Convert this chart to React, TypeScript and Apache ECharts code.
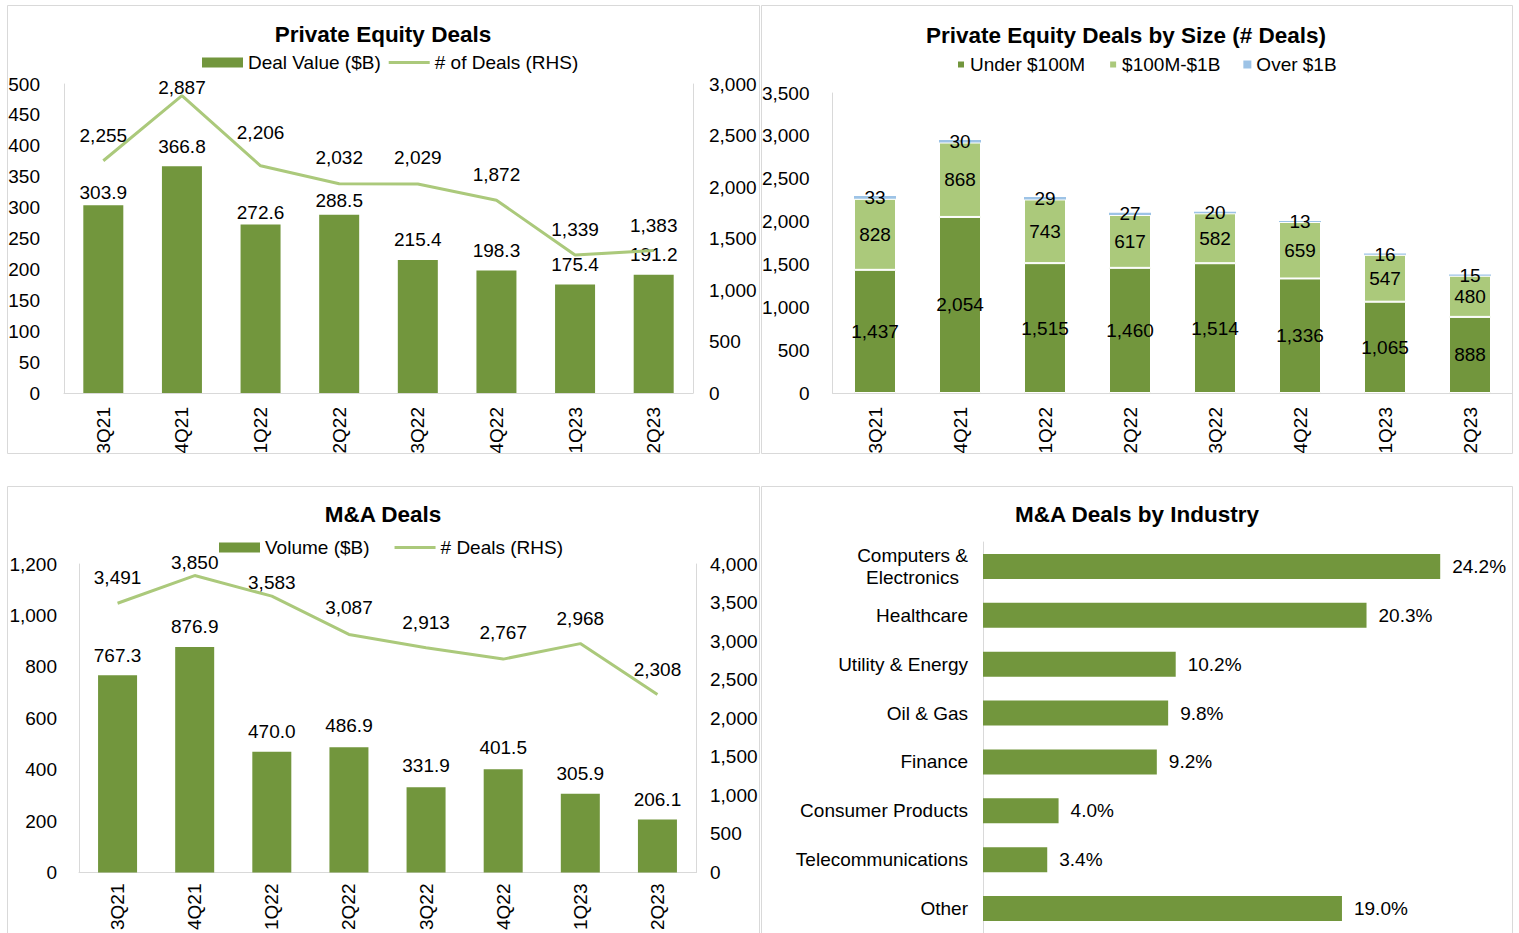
import { useEffect, useRef } from 'react';
import * as echarts from 'echarts';

const quarters = ['3Q21', '4Q21', '1Q22', '2Q22', '3Q22', '4Q22', '1Q23', '2Q23'];
const peDealValue = [303.9, 366.8, 272.6, 288.5, 215.4, 198.3, 175.4, 191.2];
const peDealCount = [2255, 2887, 2206, 2032, 2029, 1872, 1339, 1383];
const sizeUnder100M = [1437, 2054, 1515, 1460, 1514, 1336, 1065, 888];
const size100Mto1B = [828, 868, 743, 617, 582, 659, 547, 480];
const sizeOver1B = [33, 30, 29, 27, 20, 13, 16, 15];
const maVolume = [767.3, 876.9, 470.0, 486.9, 331.9, 401.5, 305.9, 206.1];
const maDealCount = [3491, 3850, 3583, 3087, 2913, 2767, 2968, 2308];
const industries = [
  'Computers &\nElectronics',
  'Healthcare',
  'Utility & Energy',
  'Oil & Gas',
  'Finance',
  'Consumer Products',
  'Telecommunications',
  'Other',
];
const industryShare = [24.2, 20.3, 10.2, 9.8, 9.2, 4.0, 3.4, 19.0];

const FONT = '"Liberation Sans", Arial, Helvetica, sans-serif';
const DARK = '#72963d';
const LIGHT = '#abc97b';
const BLUE = '#9dc3e6';
const AXIS = '#d9d9d9';
const LINE_ICON = 'path://M0 0H40V3H0Z';

export default function App() {
  const ref = useRef<HTMLDivElement>(null);

  useEffect(() => {
    const chart = echarts.init(ref.current!, null, { renderer: 'svg' });
    const fmtInt = (v: number) => Number(v).toLocaleString('en-US');
    const txt = { fontSize: 19, color: '#000', fontFamily: FONT };

    // label gaps (style tweaks matching the reference placement)
    const peValueGap = [3, 10, 3, 5, 11, 10, 11, 11];
    const peCountGap = [16, -1, 24, 17, 17, 16, 16, 16];
    const maVolumeGap = [10, 11, 11, 12, 12, 12, 11, 11];
    const maCountGap = [16, 4, 4, 17, 16, 17, 16, 16];

    const catAxis = (gridIndex: number, margin: number) => ({
      type: 'category',
      gridIndex,
      data: quarters,
      axisLine: { show: true, lineStyle: { color: AXIS, width: 1 } },
      axisTick: { show: false },
      splitLine: { show: false },
      axisLabel: { ...txt, rotate: 90, margin, interval: 0 },
    });
    const valAxis = (
      gridIndex: number,
      max: number,
      interval: number,
      position: string,
      margin: number
    ) => ({
      type: 'value',
      gridIndex,
      min: 0,
      max,
      interval,
      position,
      axisLine: { show: true, lineStyle: { color: AXIS, width: 1 } },
      axisTick: { show: false },
      splitLine: { show: false },
      axisLabel: { ...txt, margin, formatter: (v: number) => fmtInt(v) },
    });

    const panel = (x: number, y: number, w: number, h: number) => ({
      type: 'rect',
      shape: { x: x + 0.5, y: y + 0.5, width: w, height: h },
      style: { fill: 'none', stroke: AXIS, lineWidth: 1 },
      silent: true,
    });
    const title = (x: number, y: number, text: string) => ({
      type: 'text',
      x,
      y,
      style: {
        text,
        fontSize: 22.5,
        fontWeight: 'bold',
        fontFamily: FONT,
        fill: '#000',
        align: 'center',
        verticalAlign: 'middle',
      },
      silent: true,
    });

    const option: any = {
      animation: false,
      textStyle: { fontFamily: FONT },
      graphic: [
        panel(7, 5, 752, 448),
        panel(761, 5, 751, 448),
        panel(7, 486, 752, 460),
        panel(761, 486, 751, 460),
        title(383, 34, 'Private Equity Deals'),
        title(1126, 35, 'Private Equity Deals by Size (# Deals)'),
        title(383, 514, 'M&A Deals'),
        title(1137, 514, 'M&A Deals by Industry'),
      ],
      legend: [
        {
          left: 197,
          top: 48,
          itemWidth: 41,
          itemHeight: 10,
          itemGap: 8,
          selectedMode: false,
          textStyle: txt,
          data: [
            { name: 'Deal Value ($B)', icon: 'rect' },
            { name: '# of Deals (RHS)', icon: LINE_ICON },
          ],
        },
        {
          left: 951,
          top: 50,
          itemWidth: 8,
          itemHeight: 8,
          itemGap: 23,
          selectedMode: false,
          icon: 'rect',
          textStyle: txt,
          data: ['Under $100M', '$100M-$1B', 'Over $1B'],
        },
        {
          left: 214,
          top: 533,
          itemWidth: 41,
          itemHeight: 10,
          itemGap: 25,
          selectedMode: false,
          textStyle: txt,
          data: [
            { name: 'Volume ($B)', icon: 'rect' },
            { name: '# Deals (RHS)', icon: LINE_ICON },
          ],
        },
      ],
      grid: [
        { left: 64, top: 84, width: 629, height: 309 },
        { left: 832.5, top: 93, width: 680, height: 300 },
        { left: 79, top: 564, width: 617, height: 311 },
        { left: 983, top: 542, width: 529, height: 393 },
      ],
      xAxis: [
        catAxis(0, 14),
        catAxis(1, 14),
        catAxis(2, 11),
        { type: 'value', gridIndex: 3, min: 0, max: 28, show: false },
      ],
      yAxis: [
        valAxis(0, 500, 50, 'left', 24),
        valAxis(0, 3000, 500, 'right', 16),
        valAxis(1, 3500, 500, 'left', 23),
        valAxis(2, 1200, 200, 'left', 22),
        valAxis(2, 4000, 500, 'right', 14),
        {
          type: 'category',
          gridIndex: 3,
          inverse: true,
          data: industries,
          axisLine: { show: true, lineStyle: { color: AXIS, width: 1 } },
          axisTick: { show: false },
          splitLine: { show: false },
          axisLabel: {
            ...txt,
            margin: 15,
            lineHeight: 22,
            interval: 0,
            formatter: (v: string) => {
              const lines = v.split('\n');
              if (lines.length > 1) return `{a|${lines[0]}}\n{b|${lines[1]}}`;
              return v;
            },
            rich: {
              a: { ...txt, lineHeight: 22 },
              b: { ...txt, lineHeight: 22, padding: [0, 9, 0, 0] },
            },
          },
        },
      ],
      series: [
        {
          name: 'Deal Value ($B)',
          type: 'bar',
          xAxisIndex: 0,
          yAxisIndex: 0,
          barWidth: 40,
          itemStyle: { color: DARK },
          label: {
            show: true,
            position: 'top',
            ...txt,
            formatter: (p: any) => Number(p.value).toFixed(1),
          },
          data: peDealValue.map((v, i) => ({ value: v, label: { distance: peValueGap[i] } })),
        },
        {
          name: '# of Deals (RHS)',
          type: 'line',
          xAxisIndex: 0,
          yAxisIndex: 1,
          symbol: 'circle',
          symbolSize: 0,
          showSymbol: true,
          z: 5,
          itemStyle: { color: LIGHT },
          lineStyle: { color: LIGHT, width: 3 },
          label: {
            show: true,
            position: 'top',
            ...txt,
            formatter: (p: any) => fmtInt(p.value),
          },
          data: peDealCount.map((v, i) => ({ value: v, label: { distance: peCountGap[i] } })),
        },
        {
          name: 'Under $100M',
          type: 'bar',
          stack: 'size',
          xAxisIndex: 1,
          yAxisIndex: 2,
          barWidth: 42,
          itemStyle: { color: DARK, borderColor: '#fff', borderWidth: 1 },
          label: { show: true, position: 'inside', ...txt, formatter: (p: any) => fmtInt(p.value) },
          data: sizeUnder100M,
        },
        {
          name: '$100M-$1B',
          type: 'bar',
          stack: 'size',
          xAxisIndex: 1,
          yAxisIndex: 2,
          barWidth: 42,
          itemStyle: { color: LIGHT, borderColor: '#fff', borderWidth: 1 },
          label: { show: true, position: 'inside', ...txt, formatter: (p: any) => fmtInt(p.value) },
          data: size100Mto1B,
        },
        {
          name: 'Over $1B',
          type: 'bar',
          stack: 'size',
          xAxisIndex: 1,
          yAxisIndex: 2,
          barWidth: 42,
          itemStyle: { color: BLUE, borderWidth: 0 },
          label: { show: true, position: 'inside', ...txt, formatter: (p: any) => fmtInt(p.value) },
          data: sizeOver1B,
        },
        {
          name: 'Volume ($B)',
          type: 'bar',
          xAxisIndex: 2,
          yAxisIndex: 3,
          barWidth: 39,
          itemStyle: { color: DARK },
          label: {
            show: true,
            position: 'top',
            ...txt,
            formatter: (p: any) => Number(p.value).toFixed(1),
          },
          data: maVolume.map((v, i) => ({ value: v, label: { distance: maVolumeGap[i] } })),
        },
        {
          name: '# Deals (RHS)',
          type: 'line',
          xAxisIndex: 2,
          yAxisIndex: 4,
          symbol: 'circle',
          symbolSize: 0,
          showSymbol: true,
          z: 5,
          itemStyle: { color: LIGHT },
          lineStyle: { color: LIGHT, width: 3 },
          label: {
            show: true,
            position: 'top',
            ...txt,
            formatter: (p: any) => fmtInt(p.value),
          },
          data: maDealCount.map((v, i) => ({ value: v, label: { distance: maCountGap[i] } })),
        },
        {
          name: 'Industry Share',
          type: 'bar',
          xAxisIndex: 3,
          yAxisIndex: 5,
          barWidth: 25,
          itemStyle: { color: DARK },
          label: {
            show: true,
            position: 'right',
            distance: 12,
            ...txt,
            formatter: (p: any) => Number(p.value).toFixed(1) + '%',
          },
          data: industryShare,
        },
      ],
    };

    chart.setOption(option);
    return () => chart.dispose();
  }, []);

  return (
    <div
      ref={ref}
      style={{ position: 'absolute', left: 0, top: 0, width: 1519, height: 933, background: '#fff' }}
    />
  );
}
